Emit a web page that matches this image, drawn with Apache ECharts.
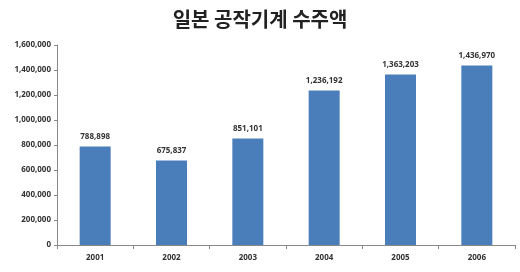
<!DOCTYPE html>
<html><head><meta charset="utf-8">
<script src="https://cdn.jsdelivr.net/npm/echarts@6/dist/echarts.min.js"></script>
<style>html,body{margin:0;padding:0;background:#fff}#c{width:520px;height:272px}</style>
</head><body><div id="c"></div>
<script>
const titleText = '일본 공작기계 수주액';
const years = ['2001','2002','2003','2004','2005','2006'];
const orders = [788898, 675837, 851101, 1236192, 1363203, 1436970];

const chart = echarts.init(document.getElementById('c'));
const fmt = v => v.toLocaleString('en-US');
chart.setOption({
  animation: false,
  backgroundColor: '#fff',
  title: {
    text: titleText, left: 'center', top: 4,
    textStyle: { fontFamily: 'Noto Sans CJK KR', fontSize: 20, fontWeight: 'bold', color: '#222' }
  },
  grid: { left: 57, right: 5, top: 45, bottom: 27 },
  xAxis: {
    type: 'category', data: years,
    axisLine: { lineStyle: { color: '#888', width: 1 } },
    axisTick: { show: true, alignWithLabel: false, length: 4, lineStyle: { color: '#888' } },
    axisLabel: { fontFamily: 'Noto Sans', fontSize: 8, fontWeight: 'bold', color: '#333', margin: 9 }
  },
  yAxis: {
    type: 'value', min: 0, max: 1600000, interval: 200000,
    axisLine: { show: true, lineStyle: { color: '#888', width: 1 } },
    axisTick: { show: true, length: 3, lineStyle: { color: '#888' } },
    splitLine: { show: false },
    axisLabel: { fontFamily: 'Noto Sans', fontSize: 8, fontWeight: 'bold', color: '#333', margin: 6, formatter: fmt }
  },
  series: [{
    type: 'bar', data: orders, barWidth: 31,
    itemStyle: { color: '#4a7ebb' },
    label: { show: true, position: 'top', distance: 6, fontFamily: 'Noto Sans', fontSize: 8, fontWeight: 'bold', color: '#333', formatter: p => fmt(p.value) }
  }]
});
</script></body></html>
